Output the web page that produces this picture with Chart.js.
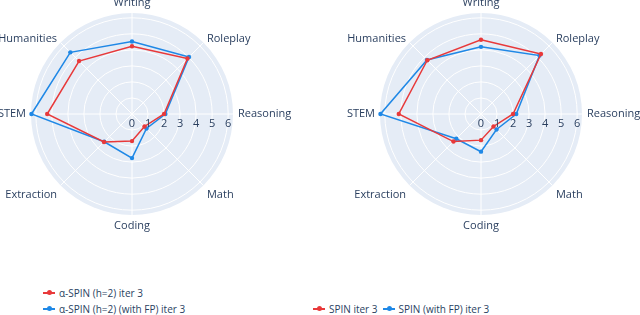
<!DOCTYPE html>
<html>
<head>
<meta charset="utf-8">
<script src="https://cdn.jsdelivr.net/npm/chart.js@4"></script>
<style>
  html, body { margin: 0; padding: 0; background: #fff; }
  #wrap { position: relative; width: 640px; height: 315px; overflow: hidden; font-family: "Open Sans", sans-serif; }
  .pane { position: absolute; top: 0; width: 320px; height: 260px; }
  .legend { position: absolute; font-size: 10px; line-height: 16px; color: #2a3f5f; display: flex; }
  .legend.col { flex-direction: column; }
  .item { display: flex; align-items: center; height: 16px; white-space: nowrap; }
  .swatch { position: relative; width: 12px; height: 2px; margin-right: 4px; }
  .swatch i { position: absolute; left: 4px; top: -2px; width: 5px; height: 5px; border-radius: 50%; }
</style>
</head>
<body>
<div id="wrap">
  <div class="pane" style="left:0"><canvas id="chartLeft"></canvas></div>
  <div class="pane" style="left:320px"><canvas id="chartRight"></canvas></div>
  <div class="legend col" id="legendLeft" style="left:43px; top:285px;"></div>
  <div class="legend" id="legendRight" style="left:313px; top:301px;"></div>
</div>
<script>
const categories = ['Writing', 'Roleplay', 'Reasoning', 'Math', 'Coding', 'Extraction', 'STEM', 'Humanities'];
const radialTicks = [0, 1, 2, 3, 4, 5, 6];
const radialMax = 6.3;

// left panel
const alphaSpinIter3 = [4.23, 4.89, 2.0, 1.1, 1.69, 2.47, 5.29, 4.67];
const alphaSpinFpIter3 = [4.52, 5.03, 2.08, 1.28, 2.75, 2.45, 6.27, 5.44];
// right panel
const spinIter3 = [4.63, 5.29, 2.0, 1.1, 1.63, 2.43, 5.13, 4.74];
const spinFpIter3 = [4.19, 5.16, 2.2, 1.37, 2.35, 2.18, 6.27, 4.77];

const RED = '#e8393a';
const BLUE = '#1f88e6';
const TEXT = '#2a3f5f';

// draws category labels + radial tick labels the way plotly places them
const polarText = {
  id: 'polarText',
  afterDraw(chart) {
    const scale = chart.scales.r;
    const ctx = chart.ctx;
    ctx.save();
    ctx.fillStyle = TEXT;
    ctx.font = '11px "Open Sans"';
    categories.forEach((name, i) => {
      const p = scale.getPointPosition(i, scale.drawingArea + 5);
      const dx = p.x - scale.xCenter, dy = p.y - scale.yCenter;
      ctx.textAlign = Math.abs(dx) < 1 ? 'center' : (dx > 0 ? 'left' : 'right');
      if (Math.abs(dx) < 1) ctx.textBaseline = dy < 0 ? 'bottom' : 'top';
      else if (Math.abs(dy) < 1) ctx.textBaseline = 'middle';
      else ctx.textBaseline = dy < 0 ? 'middle' : 'top';
      ctx.fillText(name, p.x, p.y);
    });
    // tick labels along the Reasoning direction, below the axis
    ctx.textAlign = 'center';
    ctx.textBaseline = 'top';
    radialTicks.forEach(v => {
      const p = scale.getPointPosition(2, scale.getDistanceFromCenterForValue(v));
      ctx.fillText(String(v), p.x, p.y + 4);
    });
    ctx.restore();
  }
};

function makeRadar(id, dsA, dsB, padding) {
  return new Chart(document.getElementById(id), {
    type: 'radar',
    data: {
      labels: categories,
      datasets: [
        { label: dsA.label, data: dsA.data, borderColor: RED, backgroundColor: RED, pointBackgroundColor: RED,
          borderWidth: 1.5, pointRadius: 2.2, pointBorderWidth: 0, fill: false },
        { label: dsB.label, data: dsB.data, borderColor: BLUE, backgroundColor: BLUE, pointBackgroundColor: BLUE,
          borderWidth: 1.5, pointRadius: 2.2, pointBorderWidth: 0, fill: false }
      ]
    },
    options: {
      responsive: false,
      animation: false,
      elements: { line: { tension: 0 } },
      layout: { padding },
      plugins: { legend: { display: false }, tooltip: { enabled: false } },
      scales: {
        r: {
          min: 0,
          max: radialMax,
          backgroundColor: '#e5ecf6',
          grid: { circular: true, color: '#ffffff', lineWidth: 1 },
          angleLines: { color: '#ffffff', lineWidth: 1 },
          ticks: { display: false, stepSize: 1, includeBounds: false },
          pointLabels: { display: false }
        }
      }
    },
    plugins: [polarText]
  });
}

function setSize(id) {
  const c = document.getElementById(id);
  c.width = 320; c.height = 260;
  c.style.width = '320px'; c.style.height = '260px';
}
setSize('chartLeft');
setSize('chartRight');

const leftChart = makeRadar('chartLeft',
  { label: 'α-SPIN (h=2) iter 3', data: alphaSpinIter3 },
  { label: 'α-SPIN (h=2) (with FP) iter 3', data: alphaSpinFpIter3 },
  { left: 31, right: 87, top: 13, bottom: 45 });

const rightChart = makeRadar('chartRight',
  { label: 'SPIN iter 3', data: spinIter3 },
  { label: 'SPIN (with FP) iter 3', data: spinFpIter3 },
  { left: 60, right: 58, top: 13, bottom: 45 });

// html legends built from the datasets
function buildLegend(chart, elId, vertical) {
  const el = document.getElementById(elId);
  chart.data.datasets.forEach((ds, i) => {
    const item = document.createElement('div');
    item.className = 'item';
    if (!vertical && i > 0) item.style.marginLeft = '5px';
    const sw = document.createElement('span');
    sw.className = 'swatch';
    sw.style.background = ds.borderColor;
    const dot = document.createElement('i');
    dot.style.background = ds.borderColor;
    sw.appendChild(dot);
    item.appendChild(sw);
    item.appendChild(document.createTextNode(ds.label));
    el.appendChild(item);
  });
}
buildLegend(leftChart, 'legendLeft', true);
buildLegend(rightChart, 'legendRight', false);
</script>
</body>
</html>
